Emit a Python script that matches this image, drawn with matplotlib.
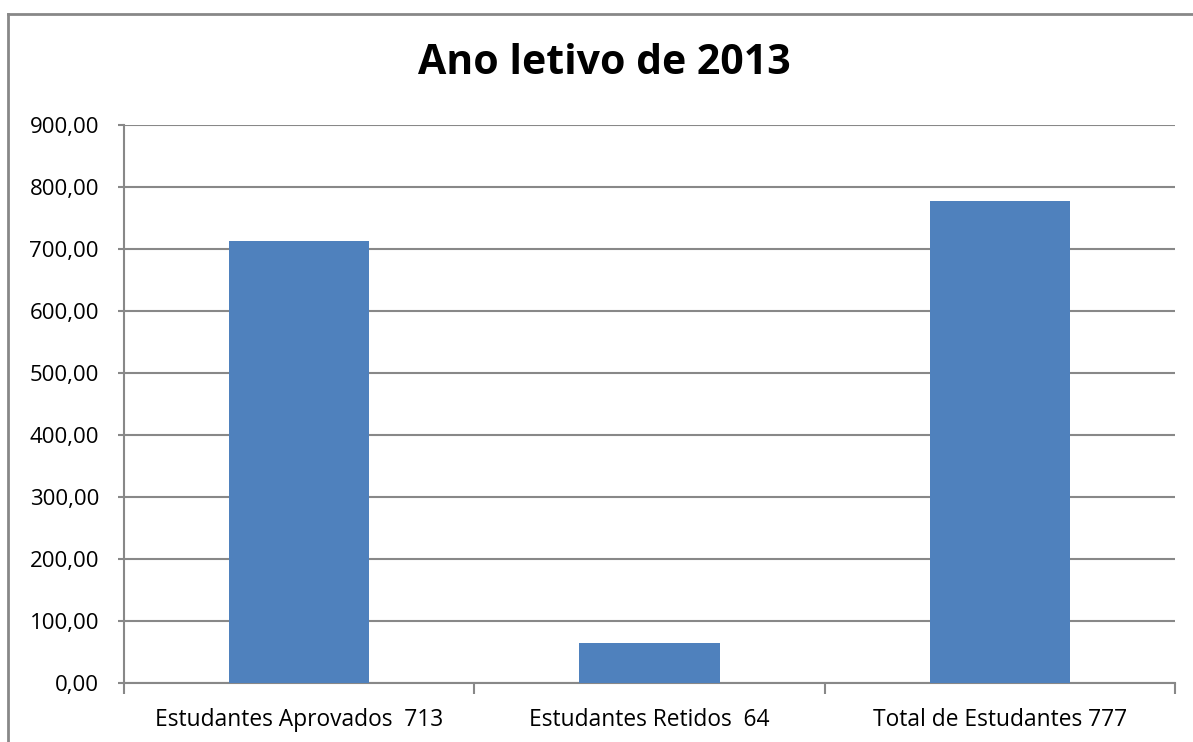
import matplotlib.pyplot as plt
from matplotlib.ticker import FuncFormatter
from matplotlib.lines import Line2D

categorias = ['Estudantes Aprovados  713', 'Estudantes Retidos  64', 'Total de Estudantes 777']
valores = [713, 64, 777]
titulo = 'Ano letivo de 2013'

plt.rcParams['font.family'] = ['Open Sans', 'DejaVu Sans']

fig = plt.figure(figsize=(11.93, 7.42), dpi=100)
ax = fig.add_axes([124 / 1193, (742 - 683) / 742, (1175 - 124) / 1193, (683 - 125) / 742])

x = range(len(categorias))
ax.bar(x, valores, width=0.4, color='#4F81BD', zorder=3)

ax.set_xlim(-0.5, 2.5)
ax.set_ylim(0, 900)
ax.set_yticks(range(0, 901, 100))
ax.yaxis.set_major_formatter(FuncFormatter(lambda v, p: f'{v:.2f}'.replace('.', ',')))
ax.set_xticks([-0.5, 0.5, 1.5, 2.5])
ax.set_xticklabels([])
ax.set_xticks(list(x), minor=True)
ax.set_xticklabels(categorias, minor=True)
ax.tick_params(axis='x', which='minor', length=0, labelsize=16.4, pad=18)
ax.tick_params(axis='x', which='major', length=8, color='#888888', width=1.5)
ax.tick_params(axis='y', length=4, color='#888888', width=1.5, labelsize=16, pad=14)

ax.grid(axis='y', color='#888888', linewidth=1.5, zorder=0)
for s in ['top', 'right']:
    ax.spines[s].set_visible(False)
for s in ['left', 'bottom']:
    ax.spines[s].set_color('#888888')
    ax.spines[s].set_linewidth(1.5)

fig.text(604 / 1193, 1 - 63 / 742, titulo, ha='center', va='center',
         fontsize=29.5, fontweight='bold')

# borda do gráfico
fig.add_artist(Line2D([8 / 1193, 8 / 1193], [0, 1 - 14 / 742], color='#888888', linewidth=2))
fig.add_artist(Line2D([8 / 1193, 1], [1 - 14 / 742, 1 - 14 / 742], color='#888888', linewidth=2))

fig.savefig('out.png', dpi=100)
